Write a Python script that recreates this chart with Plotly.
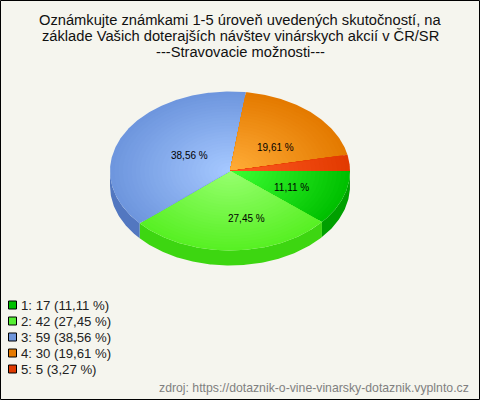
import math
import plotly.graph_objects as go

categories = ["1", "2", "3", "4", "5"]
counts = [17, 42, 59, 30, 5]
percent_labels = ["11,11 %", "27,45 %", "38,56 %", "19,61 %", "3,27 %"]
title_lines = [
    "Oznámkujte známkami 1-5 úroveň uvedených skutočností, na",
    "základe Vašich doterajších návštev vinárskych akcií v ČR/SR",
    "---Stravovacie možnosti---",
]
footer = "zdroj: https://dotaznik-o-vine-vinarsky-dotaznik.vyplnto.cz"

rim_colors = [(0, 192, 0), (88, 240, 36), (110, 150, 222), (228, 122, 0), (226, 58, 0)]
core_colors = [(60, 255, 50), (150, 255, 110), (165, 200, 255), (255, 172, 55), (255, 90, 35)]
side_colors = ["#00a000", "#3dd611", "#5277c0", "#c06600", "#c03000"]
legend_colors = ["#00c000", "#55ee33", "#6f96dc", "#e57a00", "#e03a00"]

CX, CY, RX, RY, DEPTH = 230, 171, 120, 79.5, 15
LAYERS = 28
total = sum(counts)

angles = [0.0]
for c in counts:
    angles.append(angles[-1] + 360 * c / total)


def arc(a0, a1, k=1.0, dy=0.0):
    n = max(2, int(abs(a1 - a0) * 1.5) + 1)
    pts = [a0 + (a1 - a0) * i / (n - 1) for i in range(n)]
    xs = [CX + k * RX * math.cos(math.radians(a)) for a in pts]
    ys = [CY + dy + k * RY * math.sin(math.radians(a)) for a in pts]
    return xs, ys


def poly(xs, ys, color):
    return go.Scatter(
        x=xs, y=ys, mode="lines", fill="toself", fillcolor=color,
        line=dict(width=0, color=color), hoverinfo="skip", showlegend=False,
    )


fig = go.Figure()

# Side wall: only the front half of the pie is visible
for i in range(len(counts)):
    a0, a1 = angles[i], min(angles[i + 1], 180)
    if a0 >= 180:
        continue
    tx, ty = arc(a0, a1)
    bx, by = arc(a1, a0, dy=DEPTH)
    fig.add_trace(poly(tx + bx + tx[:1], ty + by + ty[:1], side_colors[i]))

# Top face: radial gradient drawn as nested wedges
for i in range(len(counts)):
    a0, a1 = angles[i], angles[i + 1]
    for j in range(LAYERS):
        t = j / (LAYERS - 1)
        k = 1 - j / LAYERS
        rgb = [round(rim_colors[i][c] + (core_colors[i][c] - rim_colors[i][c]) * t) for c in range(3)]
        xs, ys = arc(a0, a1, k=k)
        fig.add_trace(poly([CX] + xs + [CX], [CY] + ys + [CY], "rgb(%d,%d,%d)" % tuple(rgb)))

# Legend squares
legend_y = [305 + 16 * i for i in range(len(counts))]
fig.add_trace(go.Scatter(
    x=[12.5] * len(counts), y=legend_y, mode="markers",
    marker=dict(symbol="square", size=8, color=legend_colors, line=dict(color="black", width=1)),
    hoverinfo="skip", showlegend=False,
))

annotations = []


def text(x, y, s, size, color="black", anchor="center"):
    annotations.append(dict(
        x=x, y=y, text=s, showarrow=False, xanchor=anchor, yanchor="middle",
        font=dict(family="Liberation Sans", size=size, color=color),
    ))


for i, line in enumerate(title_lines):
    text(240, 20 + 16 * i, line, 14.7, "#111111")

for i, (c, n, p) in enumerate(zip(categories, counts, percent_labels)):
    text(19, legend_y[i], f"{c}: {n} ({p})", 13.2, "#222222", "left")

# Slice labels (the smallest slice has none in the reference)
text(291, 187, percent_labels[0], 10)
text(246, 218, percent_labels[1], 10)
text(189, 155, percent_labels[2], 10)
text(275, 147, percent_labels[3], 10)

text(471, 388, footer, 12.25, "#808080", "right")

fig.update_layout(
    width=480, height=400, margin=dict(l=0, r=0, t=0, b=0),
    paper_bgcolor="#f5f5ee", plot_bgcolor="#f5f5ee",
    xaxis=dict(range=[0, 480], visible=False, fixedrange=True),
    yaxis=dict(range=[400, 0], visible=False, fixedrange=True),
    annotations=annotations, showlegend=False,
    shapes=[dict(type="rect", x0=0.5, y0=0.5, x1=479.5, y1=399.5,
                 line=dict(color="black", width=1), fillcolor="rgba(0,0,0,0)")],
)
fig.write_html(
    "out.html", config=dict(displayModeBar=False),
    post_script="document.body.style.margin='0';document.documentElement.style.overflow='hidden';",
)
